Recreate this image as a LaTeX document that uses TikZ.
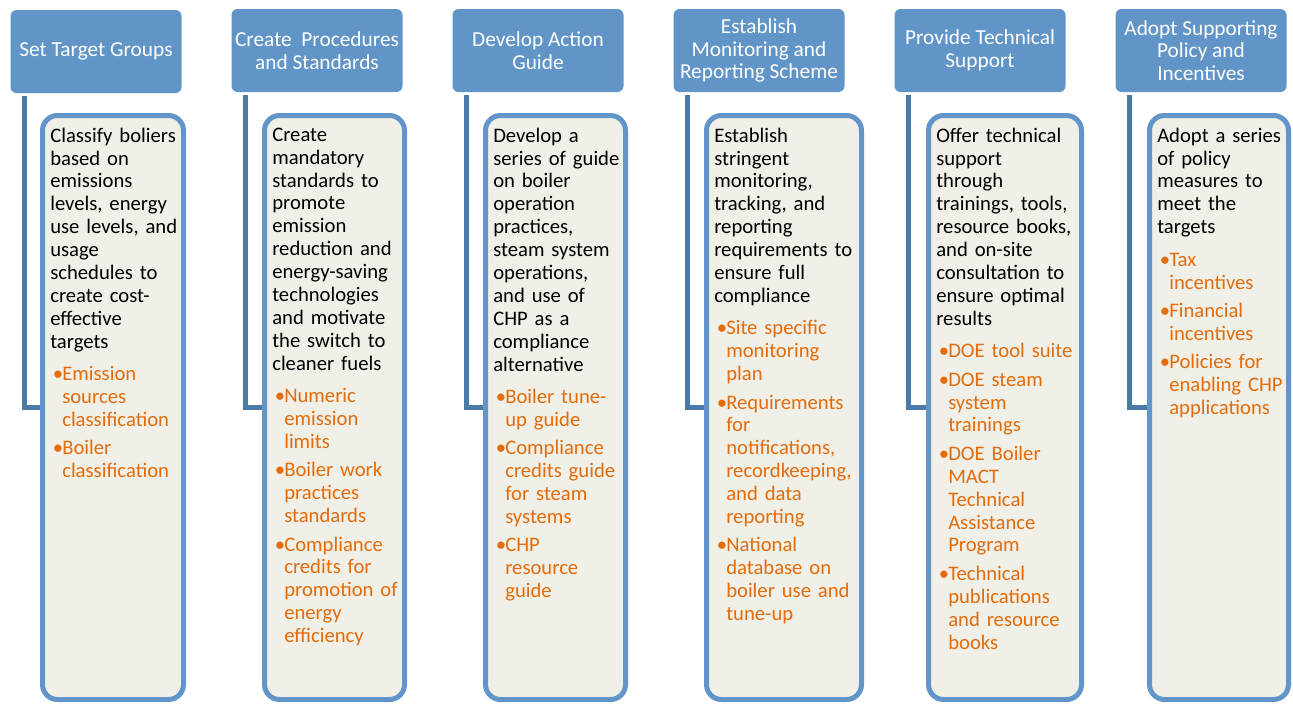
\documentclass[tikz,border=0pt]{standalone}
\usepackage{fontspec}
\setmainfont{Carlito}
\usetikzlibrary{positioning}
\definecolor{headblue}{RGB}{97,149,200}
\definecolor{boxblue}{RGB}{98,150,203}
\definecolor{linkblue}{RGB}{74,122,167}
\definecolor{boxfill}{RGB}{240,239,232}
\definecolor{tiporange}{RGB}{228,108,10}
\newlength{\px}
\setlength{\px}{0.75pt}
\setlength{\parindent}{0pt}
\newcommand{\bul}{\makebox[9pt][l]{\hspace{2pt}\textbullet}}
\newcommand{\ind}{\hspace*{9pt}}
\newcommand{\tips}{\par\vspace{7pt}\color{tiporange}}
\newcommand{\nxt}{\par\vspace{4pt}}
\tikzset{
    head/.style={fill=headblue, draw=none, rounded corners=6\px,
        minimum width=171\px, minimum height=83\px, inner sep=0pt,
        text=white, align=center, font=\fontsize{16}{16.9}\selectfont},
    stage/.style={fill=boxfill, draw=boxblue, line width=5\px,
        rounded corners=15\px, minimum height=584\px},
    stagetext/.style={anchor=north west, inner sep=0pt, text width=175\px,
        align=left, font=\fontsize{15.5}{17.2}\selectfont},
    link/.style={draw=linkblue, line width=5\px}
}

\begin{document}
\begin{tikzpicture}[x=0.75pt, y=-0.75pt]
    \useasboundingbox (0,0) rectangle (1293,704);

    \node[head] (head1) at (96,51.5) {Set Target Groups};
    \node[head] (head2) at (317,50.5) {Create\ \ Procedures\\and Standards};
    \node[head] (head3) at (538,50.5) {Develop Action\\Guide};
    \node[head] (head4) at (759,50.5) {Establish\\Monitoring and\\Reporting Scheme};
    \node[head] (head5) at (980,50.5) {Provide Technical\\Support};
    \node[head] (head6) at (1201,50.5) {Adopt Supporting\\Policy and\\Incentives};

    \node[stage, minimum width=141\px] (body1) at (113,407.5) {};
    \node[stage, minimum width=140\px] (body2) at (334.5,407.5) {};
    \node[stage, minimum width=140\px] (body3) at (555.5,407.5) {};
    \node[stage, minimum width=155\px] (body4) at (784,407.5) {};
    \node[stage, minimum width=153\px] (body5) at (1005,407.5) {};
    \node[stage, minimum width=139\px] (body6) at (1219,407.5) {};

    \node[stagetext] (txt1) at ([xshift=10\px, yshift=-14.5\px]body1.north west) {%
        Classify boliers\\based on\\emissions\\levels, energy\\use levels, and\\usage\\schedules to\\create cost-\\effective\\targets
        \tips
        \bul Emission\\\ind sources\\\ind classification
        \nxt
        \bul Boiler\\\ind classification};
    \node[stagetext] (txt2) at ([xshift=10\px, yshift=-14.5\px]body2.north west) {%
        Create\\mandatory\\standards to\\promote\\emission\\reduction and\\energy-saving\\technologies\\and motivate\\the switch to\\cleaner fuels
        \tips
        \bul Numeric\\\ind emission\\\ind limits
        \nxt
        \bul Boiler work\\\ind practices\\\ind standards
        \nxt
        \bul Compliance\\\ind credits for\\\ind promotion of\\\ind energy\\\ind efficiency};
    \node[stagetext] (txt3) at ([xshift=10\px, yshift=-14.5\px]body3.north west) {%
        Develop a\\series of guide\\on boiler\\operation\\practices,\\steam system\\operations,\\and use of\\CHP as a\\compliance\\alternative
        \tips
        \bul Boiler tune-\\\ind up guide
        \nxt
        \bul Compliance\\\ind credits guide\\\ind for steam\\\ind systems
        \nxt
        \bul CHP\\\ind resource\\\ind guide};
    \node[stagetext] (txt4) at ([xshift=10\px, yshift=-14.5\px]body4.north west) {%
        Establish\\stringent\\monitoring,\\tracking, and\\reporting\\requirements to\\ensure full\\compliance
        \tips
        \bul Site specific\\\ind monitoring\\\ind plan
        \nxt
        \bul Requirements\\\ind for\\\ind notifications,\\\ind recordkeeping,\\\ind and data\\\ind reporting
        \nxt
        \bul National\\\ind database on\\\ind boiler use and\\\ind tune-up};
    \node[stagetext] (txt5) at ([xshift=10\px, yshift=-14.5\px]body5.north west) {%
        Offer technical\\support\\through\\trainings, tools,\\resource books,\\and on-site\\consultation to\\ensure optimal\\results
        \tips
        \bul DOE tool suite
        \nxt
        \bul DOE steam\\\ind system\\\ind trainings
        \nxt
        \bul DOE Boiler\\\ind MACT\\\ind Technical\\\ind Assistance\\\ind Program
        \nxt
        \bul Technical\\\ind publications\\\ind and resource\\\ind books};
    \node[stagetext] (txt6) at ([xshift=10\px, yshift=-14.5\px]body6.north west) {%
        Adopt a series\\of policy\\measures to\\meet the\\targets
        \tips
        \bul Tax\\\ind incentives
        \nxt
        \bul Financial\\\ind incentives
        \nxt
        \bul Policies for\\\ind enabling CHP\\\ind applications};

    \draw[link] ([xshift=14\px, yshift=-3\px]head1.south west) |- (body1.west);
    \draw[link] ([xshift=14\px, yshift=-3\px]head2.south west) |- (body2.west);
    \draw[link] ([xshift=14\px, yshift=-3\px]head3.south west) |- (body3.west);
    \draw[link] ([xshift=14\px, yshift=-3\px]head4.south west) |- (body4.west);
    \draw[link] ([xshift=14\px, yshift=-3\px]head5.south west) |- (body5.west);
    \draw[link] ([xshift=14\px, yshift=-3\px]head6.south west) |- (body6.west);
\end{tikzpicture}
\end{document}
